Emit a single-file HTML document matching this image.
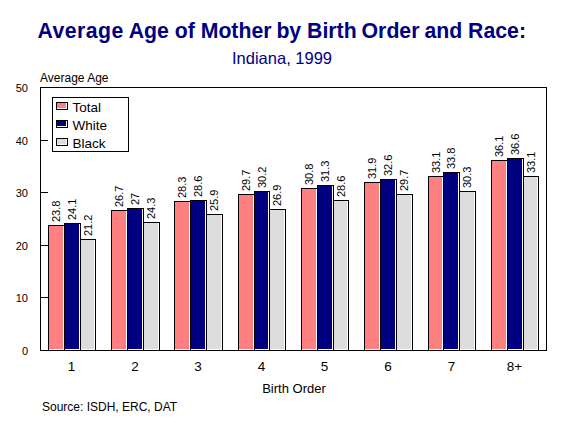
<!DOCTYPE html>
<html><head><meta charset="utf-8">
<style>
html,body{margin:0;padding:0;background:#fff;width:566px;height:425px;overflow:hidden}
svg{display:block}
text{font-family:"Liberation Sans",sans-serif;fill:#000}
.ttl{font-size:21.26px;font-weight:bold;fill:#000080}
.sub{font-size:16.5px;fill:#000080}
.dl{font-size:11px}
.yl{font-size:11px;text-anchor:end}
.xl{font-size:13.5px;text-anchor:middle}
.lg{font-size:13.5px}
.ax{font-size:12px}
.xt{font-size:13px;text-anchor:middle}
</style></head><body>
<svg width="566" height="425" viewBox="0 0 566 425" shape-rendering="crispEdges">
<rect x="0" y="0" width="566" height="425" fill="#fff"/>
<text class="ttl" y="38"><tspan x="37.5" style="letter-spacing:0.45px">Average</tspan><tspan x="128.7">Age</tspan><tspan x="174.7">of</tspan><tspan x="200.7">Mother</tspan><tspan x="276.4">by</tspan><tspan x="307.1">Birth</tspan><tspan x="361.6">Order</tspan><tspan x="424.4">and</tspan><tspan x="468.1">Race:</tspan></text>
<text class="sub" x="232" y="64">Indiana, 1999</text>
<text class="ax" x="40" y="82">Average Age</text>
<rect x="40" y="87" width="507" height="264" fill="#000"/>
<rect x="41" y="88" width="505" height="262" fill="#fff"/>
<rect x="40" y="350" width="8" height="1" fill="#000"/>
<text class="yl" x="28" y="354.5">0</text>
<rect x="40" y="297" width="8" height="1" fill="#000"/>
<text class="yl" x="28" y="301.5">10</text>
<rect x="40" y="245" width="8" height="1" fill="#000"/>
<text class="yl" x="28" y="249.5">20</text>
<rect x="40" y="192" width="8" height="1" fill="#000"/>
<text class="yl" x="28" y="196.5">30</text>
<rect x="40" y="140" width="8" height="1" fill="#000"/>
<text class="yl" x="28" y="144.5">40</text>
<rect x="40" y="87" width="8" height="1" fill="#000"/>
<text class="yl" x="28" y="91.5">50</text>
<rect x="48" y="225" width="17" height="126" fill="#000"/>
<rect x="49" y="226" width="15" height="124" fill="#fff"/>
<rect x="49" y="226" width="14" height="123" fill="#FF8080"/>
<text class="dl" transform="translate(60.40,222) rotate(-90)">23.8</text>
<rect x="64" y="223" width="17" height="128" fill="#000"/>
<rect x="65" y="224" width="15" height="126" fill="#fff"/>
<rect x="65" y="224" width="14" height="125" fill="#000080"/>
<text class="dl" transform="translate(76.40,220) rotate(-90)">24.1</text>
<rect x="80" y="239" width="16" height="112" fill="#000"/>
<rect x="81" y="240" width="14" height="110" fill="#fff"/>
<rect x="81" y="240" width="13" height="109" fill="#DDDDDD"/>
<text class="dl" transform="translate(91.90,236) rotate(-90)">21.2</text>
<rect x="111" y="210" width="17" height="141" fill="#000"/>
<rect x="112" y="211" width="15" height="139" fill="#fff"/>
<rect x="112" y="211" width="14" height="138" fill="#FF8080"/>
<text class="dl" transform="translate(123.40,207) rotate(-90)">26.7</text>
<rect x="127" y="208" width="17" height="143" fill="#000"/>
<rect x="128" y="209" width="15" height="141" fill="#fff"/>
<rect x="128" y="209" width="14" height="140" fill="#000080"/>
<text class="dl" transform="translate(139.40,205) rotate(-90)">27</text>
<rect x="143" y="222" width="17" height="129" fill="#000"/>
<rect x="144" y="223" width="15" height="127" fill="#fff"/>
<rect x="144" y="223" width="14" height="126" fill="#DDDDDD"/>
<text class="dl" transform="translate(155.40,219) rotate(-90)">24.3</text>
<rect x="174" y="201" width="17" height="150" fill="#000"/>
<rect x="175" y="202" width="15" height="148" fill="#fff"/>
<rect x="175" y="202" width="14" height="147" fill="#FF8080"/>
<text class="dl" transform="translate(186.40,198) rotate(-90)">28.3</text>
<rect x="190" y="200" width="17" height="151" fill="#000"/>
<rect x="191" y="201" width="15" height="149" fill="#fff"/>
<rect x="191" y="201" width="14" height="148" fill="#000080"/>
<text class="dl" transform="translate(202.40,197) rotate(-90)">28.6</text>
<rect x="206" y="214" width="17" height="137" fill="#000"/>
<rect x="207" y="215" width="15" height="135" fill="#fff"/>
<rect x="207" y="215" width="14" height="134" fill="#DDDDDD"/>
<text class="dl" transform="translate(218.40,211) rotate(-90)">25.9</text>
<rect x="238" y="194" width="17" height="157" fill="#000"/>
<rect x="239" y="195" width="15" height="155" fill="#fff"/>
<rect x="239" y="195" width="14" height="154" fill="#FF8080"/>
<text class="dl" transform="translate(250.40,191) rotate(-90)">29.7</text>
<rect x="254" y="191" width="16" height="160" fill="#000"/>
<rect x="255" y="192" width="14" height="158" fill="#fff"/>
<rect x="255" y="192" width="13" height="157" fill="#000080"/>
<text class="dl" transform="translate(265.90,188) rotate(-90)">30.2</text>
<rect x="269" y="209" width="17" height="142" fill="#000"/>
<rect x="270" y="210" width="15" height="140" fill="#fff"/>
<rect x="270" y="210" width="14" height="139" fill="#DDDDDD"/>
<text class="dl" transform="translate(281.40,206) rotate(-90)">26.9</text>
<rect x="301" y="188" width="17" height="163" fill="#000"/>
<rect x="302" y="189" width="15" height="161" fill="#fff"/>
<rect x="302" y="189" width="14" height="160" fill="#FF8080"/>
<text class="dl" transform="translate(313.40,185) rotate(-90)">30.8</text>
<rect x="317" y="185" width="17" height="166" fill="#000"/>
<rect x="318" y="186" width="15" height="164" fill="#fff"/>
<rect x="318" y="186" width="14" height="163" fill="#000080"/>
<text class="dl" transform="translate(329.40,182) rotate(-90)">31.3</text>
<rect x="333" y="200" width="16" height="151" fill="#000"/>
<rect x="334" y="201" width="14" height="149" fill="#fff"/>
<rect x="334" y="201" width="13" height="148" fill="#DDDDDD"/>
<text class="dl" transform="translate(344.90,197) rotate(-90)">28.6</text>
<rect x="364" y="182" width="17" height="169" fill="#000"/>
<rect x="365" y="183" width="15" height="167" fill="#fff"/>
<rect x="365" y="183" width="14" height="166" fill="#FF8080"/>
<text class="dl" transform="translate(376.40,179) rotate(-90)">31.9</text>
<rect x="380" y="179" width="17" height="172" fill="#000"/>
<rect x="381" y="180" width="15" height="170" fill="#fff"/>
<rect x="381" y="180" width="14" height="169" fill="#000080"/>
<text class="dl" transform="translate(392.40,176) rotate(-90)">32.6</text>
<rect x="396" y="194" width="17" height="157" fill="#000"/>
<rect x="397" y="195" width="15" height="155" fill="#fff"/>
<rect x="397" y="195" width="14" height="154" fill="#DDDDDD"/>
<text class="dl" transform="translate(408.40,191) rotate(-90)">29.7</text>
<rect x="428" y="176" width="16" height="175" fill="#000"/>
<rect x="429" y="177" width="14" height="173" fill="#fff"/>
<rect x="429" y="177" width="13" height="172" fill="#FF8080"/>
<text class="dl" transform="translate(439.90,173) rotate(-90)">33.1</text>
<rect x="443" y="172" width="17" height="179" fill="#000"/>
<rect x="444" y="173" width="15" height="177" fill="#fff"/>
<rect x="444" y="173" width="14" height="176" fill="#000080"/>
<text class="dl" transform="translate(455.40,169) rotate(-90)">33.8</text>
<rect x="459" y="191" width="17" height="160" fill="#000"/>
<rect x="460" y="192" width="15" height="158" fill="#fff"/>
<rect x="460" y="192" width="14" height="157" fill="#DDDDDD"/>
<text class="dl" transform="translate(471.40,188) rotate(-90)">30.3</text>
<rect x="491" y="160" width="17" height="191" fill="#000"/>
<rect x="492" y="161" width="15" height="189" fill="#fff"/>
<rect x="492" y="161" width="14" height="188" fill="#FF8080"/>
<text class="dl" transform="translate(503.40,157) rotate(-90)">36.1</text>
<rect x="507" y="158" width="17" height="193" fill="#000"/>
<rect x="508" y="159" width="15" height="191" fill="#fff"/>
<rect x="508" y="159" width="14" height="190" fill="#000080"/>
<text class="dl" transform="translate(519.40,155) rotate(-90)">36.6</text>
<rect x="523" y="176" width="16" height="175" fill="#000"/>
<rect x="524" y="177" width="14" height="173" fill="#fff"/>
<rect x="524" y="177" width="13" height="172" fill="#DDDDDD"/>
<text class="dl" transform="translate(534.90,173) rotate(-90)">33.1</text>
<rect x="52" y="97" width="77" height="55" fill="#000"/>
<rect x="53" y="98" width="75" height="53" fill="#fff"/>
<rect x="56" y="102" width="12" height="8" fill="#000"/>
<rect x="57" y="103" width="10" height="6" fill="#fff"/>
<rect x="57" y="103" width="9" height="5" fill="#FF8080"/>
<text class="lg" x="72.5" y="111.5">Total</text>
<rect x="56" y="120" width="12" height="8" fill="#000"/>
<rect x="57" y="121" width="10" height="6" fill="#fff"/>
<rect x="57" y="121" width="9" height="5" fill="#000080"/>
<text class="lg" x="72.5" y="129.5">White</text>
<rect x="56" y="138" width="12" height="8" fill="#000"/>
<rect x="57" y="139" width="10" height="6" fill="#fff"/>
<rect x="57" y="139" width="9" height="5" fill="#DDDDDD"/>
<text class="lg" x="72.5" y="147.5">Black</text>
<text class="xl" x="71.5" y="371">1</text>
<text class="xl" x="135.0" y="371">2</text>
<text class="xl" x="198.0" y="371">3</text>
<text class="xl" x="261.5" y="371">4</text>
<text class="xl" x="324.5" y="371">5</text>
<text class="xl" x="388.0" y="371">6</text>
<text class="xl" x="451.5" y="371">7</text>
<text class="xl" x="514.5" y="371">8+</text>
<text class="xt" x="294" y="393">Birth Order</text>
<text class="ax" x="42" y="411">Source: ISDH, ERC, DAT</text>
</svg>
</body></html>
